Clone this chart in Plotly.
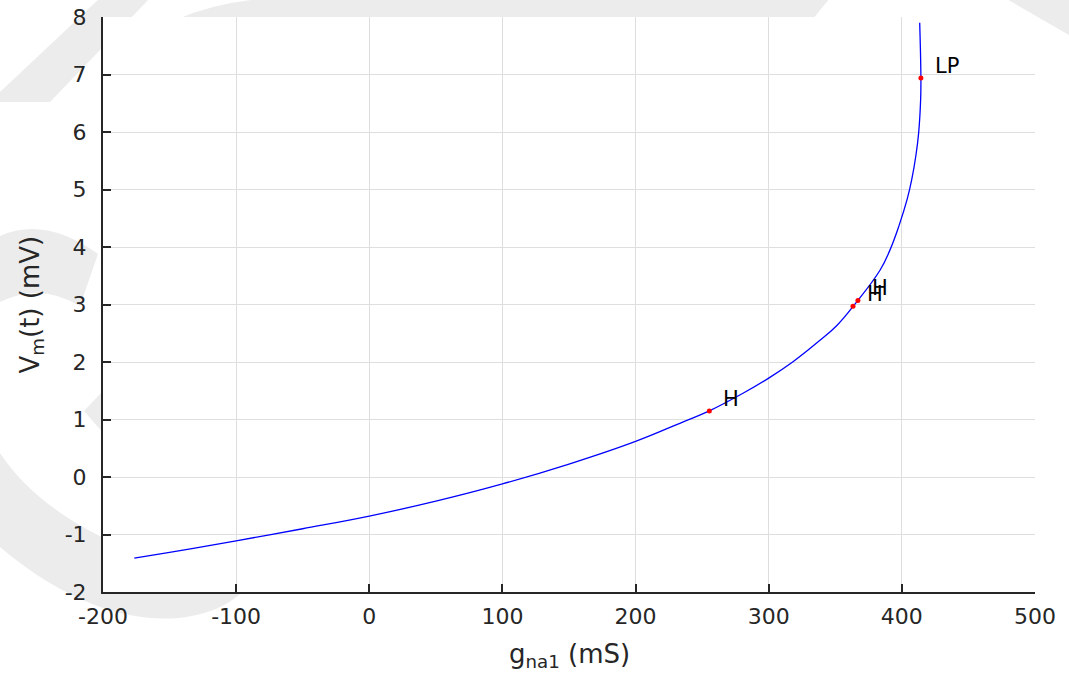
import plotly.graph_objects as go

# Continuation branch: membrane potential vs sodium conductance
g_na1 = [-176.5, -150, -100, -50, 0, 50, 100, 150, 200, 235.8, 255.4, 281, 300,
         318.5, 336, 351, 365.2, 383.7, 391.1, 398.0, 404.1, 407.4, 410.6,
         412.6, 414.1, 414.3, 413.4]
v_m = [-1.41, -1.31, -1.11, -0.90, -0.68, -0.42, -0.12, 0.225, 0.62, 0.96, 1.15,
       1.46, 1.72, 2.01, 2.33, 2.63, 3.02, 3.60, 3.95, 4.38, 4.84, 5.17, 5.60,
       5.98, 6.56, 6.94, 7.90]

# Special points on the branch (Hopf and limit point)
pt_labels = ["H", "H", "H", "LP"]
pt_g = [255.4, 363.3, 367.0, 414.3]
pt_v = [1.15, 2.97, 3.07, 6.94]

x_ticks = [-200, -100, 0, 100, 200, 300, 400, 500]
y_ticks = [-2, -1, 0, 1, 2, 3, 4, 5, 6, 7, 8]

W, H = 1069, 675
L, R, T, B = 103, 34, 17, 83
PW, PH = W - L - R, H - T - B

FONT = "DejaVu Sans, Liberation Sans, Arial, sans-serif"
INK = "#262626"


def P(px, py):
    """pixel -> paper coordinates"""
    return (px - L) / PW, (H - B - py) / PH


def path(cmds):
    out = []
    for c in cmds:
        if isinstance(c, str):
            out.append(c)
        else:
            x, y = P(*c)
            out.append(f"{x:.4f},{y:.4f}")
    return " ".join(out)


fig = go.Figure()

fig.add_trace(go.Scatter(
    x=g_na1, y=v_m, mode="lines",
    line=dict(color="#0000ff", width=1.3, shape="spline", smoothing=1.2),
    hoverinfo="skip", showlegend=False,
))
fig.add_trace(go.Scatter(
    x=pt_g, y=pt_v, mode="markers",
    marker=dict(color="#ff0000", size=5),
    hoverinfo="skip", showlegend=False,
))

for lab, gx, vy in zip(pt_labels, pt_g, pt_v):
    fig.add_annotation(
        x=gx, y=vy, text=lab, showarrow=False,
        xanchor="left", yanchor="middle", xshift=12, yshift=12,
        font=dict(family=FONT, size=21, color="black"),
    )

# faint background logo marks around the axes
wm = "#ececec"
shapes = [
    path(["M", (0, 92), "L", (100, -2), "L", (150, -2), "L", (50, 102), "L", (0, 102), "Z"]),
    path(["M", (175, 20), "Q", (230, -4), (300, -2), "L", (830, -2), "L", (812, 20), "Z"]),
    path(["M", (1005, -2), "L", (1069, -2), "L", (1069, 35), "Z"]),
    path(["M", (0, 236), "Q", (45, 216), (98, 254), "L", (80, 306), "Q", (40, 282), (0, 302), "Z"]),
    path(["M", (0, 453), "Q", (60, 545), (250, 586), "L", (235, 598),
          "C", (200, 625), (110, 640), (0, 547), "Z"]),
    path(["M", (84, 411), "L", (104, 390), "L", (104, 434), "Z"]),
]
for s in shapes:
    fig.add_shape(type="path", path=s, xref="paper", yref="paper",
                  fillcolor=wm, line=dict(width=0), layer="below")
fig.add_shape(type="rect", xref="paper", yref="paper", x0=0, x1=1, y0=0, y1=1,
              fillcolor="white", line=dict(width=0), layer="below")

axis_common = dict(
    showgrid=True, gridcolor="#dedede", gridwidth=1,
    showline=True, linecolor=INK, linewidth=2,
    ticks="inside", ticklen=8, tickwidth=1.5, tickcolor=INK,
    tickfont=dict(family=FONT, size=22, color=INK),
    zeroline=False, mirror=False,
)

fig.update_xaxes(range=[-200, 500], tickvals=x_ticks,
                 ticktext=[str(v) for v in x_ticks], ticklabelstandoff=4,
                 **axis_common)
fig.update_yaxes(range=[-2, 8], tickvals=y_ticks,
                 ticktext=[str(v) for v in y_ticks], ticklabelstandoff=10,
                 **axis_common)

fig.add_annotation(
    x=0.5, y=(H - B - 655) / PH, xref="paper", yref="paper",
    text="g<sub>na1</sub> (mS)", showarrow=False,
    xanchor="center", yanchor="middle",
    font=dict(family=FONT, size=26, color=INK),
)
fig.add_annotation(
    x=(31 - L) / PW, y=0.5, xref="paper", yref="paper",
    text="V<sub>m</sub>(t) (mV)", showarrow=False, textangle=-90,
    xanchor="center", yanchor="middle",
    font=dict(family=FONT, size=26, color=INK),
)

fig.update_layout(
    width=W, height=H,
    margin=dict(l=L, r=R, t=T, b=B, autoexpand=False),
    paper_bgcolor="white", plot_bgcolor="white",
    showlegend=False,
)

fig.write_html("out.html", config={"displayModeBar": False})
